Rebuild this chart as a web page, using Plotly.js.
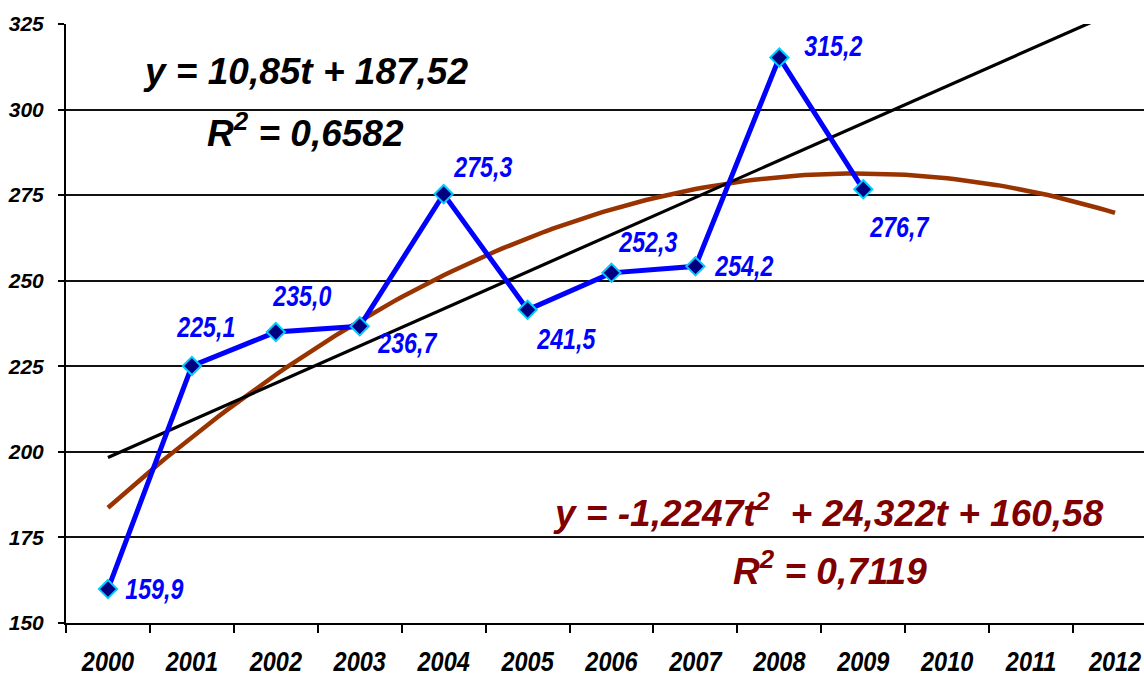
<!DOCTYPE html>
<html>
<head>
<meta charset="utf-8">
<script src="https://cdn.plot.ly/plotly-3.0.1.min.js"></script>
<style>
  html, body { margin: 0; padding: 0; overflow: hidden; background: #fff; width: 1144px; height: 676px; }
  #chart { width: 1160px; height: 676px; }
</style>
</head>
<body>
<div id="chart"></div>
<script>
// Years on the horizontal axis; t = 1 corresponds to 2000
const years = ['2000','2001','2002','2003','2004','2005','2006','2007','2008','2009','2010','2011','2012'];
// Observed values, 2000-2009
const observed = [159.9, 225.1, 235.0, 236.7, 275.3, 241.5, 252.3, 254.2, 315.2, 276.7];
// Value-axis ticks
const yTicks = [150, 175, 200, 225, 250, 275, 300, 325];
// Trend equations shown on the chart
const linearCoef = [10.85, 187.52];            // y = a*t + b
const quadCoef = [-1.2247, 24.322, 160.58];    // y = a*t^2 + b*t + c
const linearR2 = '0,6582';
const quadR2 = '0,7119';

// Pixel offsets of each value label relative to its marker
const labelShift = [[47, 0], [14, 39], [26, 36], [48, -17], [39, 27], [38, -29], [36, 31], [49, 0], [54, 12], [36, -38]];

const tYears = years.map((_, i) => i + 1);
const tObs = observed.map((_, i) => i + 1);
const tFine = [];
for (let k = 0; k <= 120; k++) tFine.push(1 + k * 0.1);
const linY = tFine.map(t => linearCoef[0] * t + linearCoef[1]);
const quadY = tFine.map(t => quadCoef[0] * t * t + quadCoef[1] * t + quadCoef[2]);

const fmt = v => v.toFixed(1).replace('.', ',');
const fmtNum = v => String(v).replace('.', ',');
const bi = s => '<b><i>' + s + '</i></b>';

const BASE = 'Liberation Sans, Arial, sans-serif';

const traces = [
  {
    x: tFine, y: quadY, mode: 'lines', type: 'scatter',
    line: { color: '#993300', width: 4.5 }, hoverinfo: 'skip', showlegend: false
  },
  {
    x: tFine, y: linY, mode: 'lines', type: 'scatter',
    line: { color: '#000000', width: 3.2 }, hoverinfo: 'skip', showlegend: false
  },
  {
    x: tObs, y: observed, mode: 'lines+markers', type: 'scatter',
    line: { color: '#0000FF', width: 5 },
    marker: { symbol: 'diamond', size: 14, color: '#000080', line: { color: '#00CCFF', width: 2 } },
    showlegend: false
  },
  {
    // carries the boundary tick marks of the year axis
    x: [1], y: [150], xaxis: 'x2', mode: 'markers', marker: { opacity: 0 },
    hoverinfo: 'skip', showlegend: false
  }
];

const annotations = observed.map((v, i) => ({
  x: tObs[i], y: v, xref: 'x', yref: 'y', text: fmt(v), showarrow: false,
  xanchor: 'center', yanchor: 'middle',
  xshift: labelShift[i][0], yshift: labelShift[i][1],
  font: { family: BASE, size: 29, color: '#0000FF', weight: 'bold', style: 'italic' }
}));

annotations.push(
  {
    x: 3.35, y: 311, xref: 'x', yref: 'y', showarrow: false, xanchor: 'center', yanchor: 'middle',
    text: bi('y = ' + fmtNum(linearCoef[0]) + 't + ' + fmtNum(linearCoef[1])),
    font: { family: BASE, size: 37, color: '#000000' }
  },
  {
    x: 3.35, y: 294, xref: 'x', yref: 'y', showarrow: false, xanchor: 'center', yanchor: 'middle',
    text: bi('R<sup>2</sup> = ' + linearR2),
    font: { family: BASE, size: 37, color: '#000000' }
  },
  {
    x: 9.59, y: 183, xref: 'x', yref: 'y', showarrow: false, xanchor: 'center', yanchor: 'middle',
    text: bi('y = ' + fmtNum(quadCoef[0]) + 't<sup>2</sup>  + ' + fmtNum(quadCoef[1]) + 't + ' + fmtNum(quadCoef[2])),
    font: { family: BASE, size: 37, color: '#800000' }
  },
  {
    x: 9.6, y: 166, xref: 'x', yref: 'y', showarrow: false, xanchor: 'center', yanchor: 'middle',
    text: bi('R<sup>2</sup> = ' + quadR2),
    font: { family: BASE, size: 37, color: '#800000' }
  }
);

const boundaries = [];
for (let k = 0; k <= years.length; k++) boundaries.push(k + 0.5);

const layout = {
  width: 1160, height: 676,
  margin: { l: 66, r: 3, t: 24, b: 53 },
  paper_bgcolor: '#ffffff', plot_bgcolor: '#ffffff',
  showlegend: false,
  xaxis: {
    range: [0.5, 13.5], tickvals: tYears, ticktext: years,
    ticks: '', showgrid: false, zeroline: false,
    showline: true, linecolor: '#000000', linewidth: 2,
    ticklabelstandoff: 12,
    tickfont: { family: BASE, size: 28, color: '#000000', weight: 'bold', style: 'italic' }
  },
  xaxis2: {
    overlaying: 'x', side: 'bottom', range: [0.5, 13.5],
    tickvals: boundaries, ticks: 'outside', ticklen: 9, tickwidth: 2, tickcolor: '#000000',
    showticklabels: false, showgrid: false, zeroline: false, showline: false
  },
  yaxis: {
    range: [150, 325], tickvals: yTicks, ticktext: yTicks.map(v => bi(String(v))),
    showgrid: true, gridcolor: '#111111', gridwidth: 2, zeroline: false,
    showline: true, linecolor: '#000000', linewidth: 2,
    ticks: 'outside', ticklen: 6, tickwidth: 2, tickcolor: '#000000',
    ticklabelstandoff: 10,
    tickfont: { family: BASE, size: 21, color: '#000000' }
  },
  annotations: annotations
};

// Condense the value labels and year labels horizontally (narrow lettering)
function condense(nodes, factor) {
  nodes.forEach(t => {
    try {
      const w = t.getComputedTextLength();
      if (w > 0) {
        t.setAttribute('textLength', (w * factor).toFixed(1));
        t.setAttribute('lengthAdjust', 'spacingAndGlyphs');
      }
    } catch (e) { /* leave text as drawn */ }
  });
}

Plotly.newPlot('chart', traces, layout, { displayModeBar: false, staticPlot: true }).then(gd => {
  condense(Array.from(gd.querySelectorAll('.xtick text')), 0.84);
  const labels = Array.from(gd.querySelectorAll('.annotation'))
    .filter(g => Number(g.getAttribute('data-index')) < observed.length)
    .map(g => g.querySelector('.annotation-text'))
    .filter(Boolean);
  condense(labels, 0.8);
});
</script>
</body>
</html>
